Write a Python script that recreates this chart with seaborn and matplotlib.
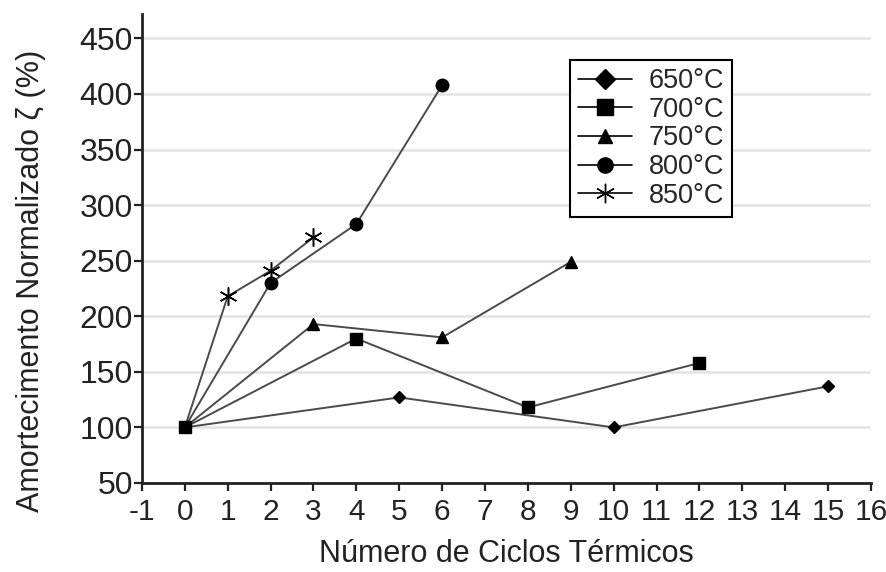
import matplotlib
matplotlib.use("Agg")
import matplotlib.pyplot as plt
import seaborn as sns
import pandas as pd
from matplotlib.lines import Line2D

# Normalized damping vs. number of thermal cycles, one series per temperature
temps = ["650°C", "700°C", "750°C", "800°C", "850°C"]
cycles_650 = [0, 5, 10, 15]
damp_650 = [100, 127, 100, 137]
cycles_700 = [0, 4, 8, 12]
damp_700 = [100, 180, 118, 158]
cycles_750 = [0, 3, 6, 9]
damp_750 = [100, 193, 181, 249]
cycles_800 = [0, 2, 4, 6]
damp_800 = [100, 230, 283, 408]
cycles_850 = [0, 1, 2, 3]
damp_850 = [100, 218, 241, 271]

x_ticks = list(range(-1, 17))
y_ticks = [50, 100, 150, 200, 250, 300, 350, 400, 450]

series = [
    (temps[0], cycles_650, damp_650),
    (temps[1], cycles_700, damp_700),
    (temps[2], cycles_750, damp_750),
    (temps[3], cycles_800, damp_800),
    (temps[4], cycles_850, damp_850),
]

sns.set_theme(style="white")
plt.rcParams["font.family"] = ["Liberation Sans", "DejaVu Sans"]

markers = {temps[0]: "D", temps[1]: "s", temps[2]: "^", temps[3]: "o", temps[4]: (6, 2, 0)}
msizes = {temps[0]: 6, temps[1]: 9, temps[2]: 8, temps[3]: 9, temps[4]: 13}
# the shared starting point (0, 100) is marked only once, with the 700°C square
zorders = {temps[0]: 3, temps[1]: 5, temps[2]: 3, temps[3]: 3, temps[4]: 3}

fig = plt.figure(figsize=(8.87, 5.72), dpi=100)
ax = fig.add_axes([0.160, 0.1556, 0.822, 0.82])

for name, xs, ys in series:
    df = pd.DataFrame({"Ciclos": xs, "Amortecimento": ys})
    sns.lineplot(data=df, x="Ciclos", y="Amortecimento", color="#4a4a4a",
                 linewidth=1.4, ax=ax, sort=False, marker=markers[name],
                 markersize=msizes[name], markerfacecolor="black",
                 markeredgecolor="black",
                 markeredgewidth=1.1 if name == temps[4] else 1.0,
                 markevery=None if name == temps[1] else slice(1, None),
                 zorder=zorders[name])

ax.set_xlim(-1, 16)
ax.set_ylim(50, 472)
ax.set_xticks(x_ticks)
ax.set_xticklabels([str(v) for v in x_ticks])
ax.set_yticks(y_ticks)
ax.set_yticklabels([str(v) for v in y_ticks])

ax.yaxis.grid(True, color="#e3e3e3", linewidth=1.8)
ax.xaxis.grid(False)
ax.set_axisbelow(True)

for side in ["top", "right"]:
    ax.spines[side].set_visible(False)
for side in ["left", "bottom"]:
    ax.spines[side].set_color("#222222")
    ax.spines[side].set_linewidth(2.0)

ax.tick_params(axis="both", which="major", direction="out", length=5.5, width=1.6,
               color="#222222", labelcolor="#222222", left=True, bottom=True)
ax.tick_params(axis="x", pad=5, labelsize=21.5)
ax.tick_params(axis="y", pad=1, labelsize=23)

ax.set_xlabel("Número de Ciclos Térmicos", fontsize=22, color="#222222", labelpad=10)
ax.set_ylabel("Amortecimento Normalizado ζ (%)", fontsize=22, color="#222222")
ax.yaxis.set_label_coords(-0.132, 0.43)

handles = [Line2D([0], [0], color="black", linewidth=1.2, marker=markers[t],
                  markersize=(msizes[t] + 4) if t == temps[0] else
                  (msizes[t] + 1 if t == temps[4] else msizes[t] + 2),
                  markerfacecolor="black", markeredgecolor="black",
                  markeredgewidth=1.0)
           for t in temps]
leg = ax.legend(handles, temps, loc="upper left", bbox_to_anchor=(0.587, 0.902),
                fontsize=19.5, frameon=True, fancybox=False, handlelength=2.0,
                handletextpad=0.6, labelspacing=0.1, borderpad=0.3,
                borderaxespad=0)
leg.get_frame().set_edgecolor("black")
leg.get_frame().set_linewidth(1.5)
leg.get_frame().set_facecolor("white")
leg.get_frame().set_alpha(1)

fig.savefig("out.png", dpi=100)
